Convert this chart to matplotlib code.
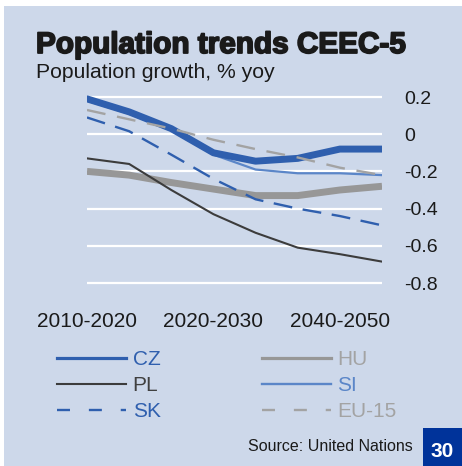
import matplotlib
matplotlib.use("Agg")
import matplotlib.pyplot as plt
from matplotlib.lines import Line2D
from matplotlib.patches import Rectangle
import matplotlib.patheffects as pe

# population growth, % yoy, five-year steps 2010 -> 2050
periods = ["2010-2015", "2015-2020", "2020-2025", "2025-2030",
           "2030-2035", "2035-2040", "2040-2045", "2045-2050"]
tick_labels = ["2010-2020", "2020-2030", "2040-2050"]
tick_idx = [0, 3, 6]

cz = [0.19, 0.12, 0.03, -0.10, -0.145, -0.13, -0.08, -0.08]
hu = [-0.20, -0.22, -0.26, -0.295, -0.33, -0.33, -0.30, -0.28]
pl = [-0.13, -0.16, -0.30, -0.43, -0.53, -0.61, -0.645, -0.685]
si = [0.18, 0.11, 0.02, -0.11, -0.19, -0.21, -0.21, -0.22]
sk = [0.09, 0.016, -0.11, -0.24, -0.35, -0.40, -0.44, -0.49]
eu15 = [0.13, 0.08, 0.03, -0.03, -0.08, -0.125, -0.18, -0.22]

yticks = [0.2, 0.0, -0.2, -0.4, -0.6, -0.8]
ytick_labels = ["0.2", "0", "-0.2", "-0.4", "-0.6", "-0.8"]

BG = "#cdd8ea"
BLUE = "#2f5fae"
LBLUE = "#5b86c8"
DARK = "#3c3c3c"
GREY = "#979797"
LGREY = "#a3a3a3"

plt.rcParams["font.family"] = ["Liberation Sans", "DejaVu Sans"]

W, H = 462, 466
fig = plt.figure(figsize=(W / 100, H / 100), dpi=100, facecolor="white")
fig.add_artist(Rectangle((4 / W, 0), 1, (H - 6) / H, transform=fig.transFigure,
                         facecolor=BG, edgecolor="none", zorder=0))

ax = fig.add_axes([87 / W, (H - 292.3) / H, 295 / W, 204.6 / H])
ax.set_facecolor("none")
for s in ax.spines.values():
    s.set_visible(False)

x = list(range(len(periods)))
for v in yticks:
    ax.axhline(v, color="white", lw=1.6, zorder=1)

ax.plot(x, hu, color=GREY, lw=5, zorder=2, solid_capstyle="butt")
ax.plot(x, si, color=LBLUE, lw=1.6, zorder=3)
ax.plot(x, cz, color=BLUE, lw=5, zorder=4, solid_capstyle="round")
ax.plot(x, pl, color=DARK, lw=1.5, zorder=5)
ax.plot(x, sk, color=BLUE, lw=1.7, ls=(0, (8, 4.5)), zorder=6)
ax.plot(x, eu15, color=LGREY, lw=1.7, ls=(0, (8, 5)), zorder=7)

ax.set_xlim(0, 7)
ax.set_ylim(-0.85, 0.25)
ax.set_xticks(tick_idx)
ax.set_xticklabels(tick_labels, fontsize=15, color="#1a1a1a")
ax.set_yticks(yticks)
ax.set_yticklabels(ytick_labels, fontsize=14, color="#1a1a1a")
ax.yaxis.tick_right()
ax.tick_params(axis="y", length=0, pad=16)
ax.tick_params(axis="x", length=0, pad=14)

fig.text(36 / W, (H - 53) / H, "Population trends CEEC-5", fontsize=21.4,
         fontweight="bold", color="#1a1a1a", va="baseline",
         path_effects=[pe.withStroke(linewidth=1.3, foreground="#1a1a1a")])
fig.text(36 / W, (H - 77.5) / H, "Population growth, % yoy", fontsize=15.2,
         color="#1a1a1a", va="baseline")

# legend: thinner proxies than the plotted lines
handles = [
    Line2D([], [], color=BLUE, lw=2.3),
    Line2D([], [], color=DARK, lw=1.5),
    Line2D([], [], color=BLUE, lw=1.7, ls=(0, (5.5, 8))),
    Line2D([], [], color=GREY, lw=2.3),
    Line2D([], [], color=LBLUE, lw=1.7),
    Line2D([], [], color=LGREY, lw=1.7, ls=(0, (5.5, 8))),
]
names = ["CZ", "PL", "SK", "HU", "SI", "EU-15"]
label_colors = [BLUE, "#404040", BLUE, LGREY, LBLUE, LGREY]
leg = fig.legend(handles, names, ncol=2, loc="upper left",
                 bbox_to_anchor=(57 / W, (H - 350) / H), frameon=False,
                 fontsize=15, handlelength=3.33, handletextpad=0.3,
                 columnspacing=4.86, labelspacing=0.34, borderpad=0,
                 borderaxespad=0)
for t, c in zip(leg.get_texts(), label_colors):
    t.set_color(c)

fig.text(413 / W, (H - 451) / H, "Source: United Nations", fontsize=11.5,
         color="#1a1a1a", ha="right", va="baseline")
fig.add_artist(Rectangle((423 / W, 0), 39 / W, 38 / H, transform=fig.transFigure,
                         facecolor="#00339a", edgecolor="none"))
fig.text(442.5 / W, (H - 457) / H, "30", fontsize=15, fontweight="bold",
         color="white", ha="center", va="baseline")

fig.savefig("out.png", dpi=100, facecolor="white")
